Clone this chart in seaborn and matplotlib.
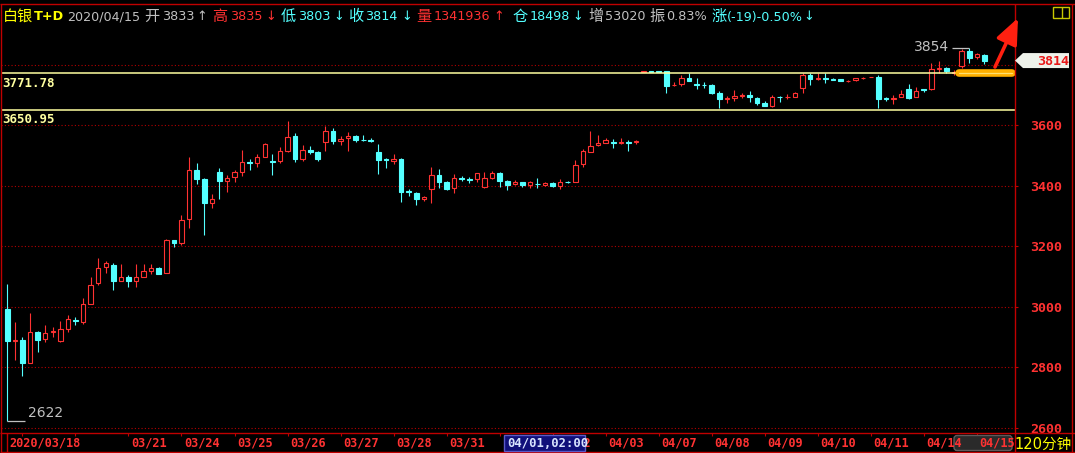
import numpy as np
import matplotlib
matplotlib.use("Agg")
import matplotlib.pyplot as plt
import seaborn as sns
from matplotlib.patches import Polygon, Rectangle, FancyBboxPatch

# ---------------- data (120-minute bars, 白银T+D) ----------------
opens = [2994, 2888, 2890, 2815, 2917, 2893, 2916, 2888, 2928, 2956,
         2951, 3010, 3078, 3131, 3138, 3086, 3098, 3086, 3100, 3119,
         3128, 3113, 3221, 3212, 3289, 3452, 3422, 3344, 3446, 3417,
         3430, 3447, 3480, 3474, 3496, 3482, 3483, 3516, 3565, 3489,
         3518, 3512, 3544, 3581, 3548, 3557, 3565, 3552, 3552, 3512,
         3487, 3483, 3488, 3382, 3375, 3356, 3388, 3435, 3413, 3392,
         3426, 3422, 3421, 3395, 3427, 3443, 3416, 3406, 3413, 3403,
         3407, 3404, 3409, 3400, 3414, 3414, 3471, 3513, 3534, 3542,
         3545, 3543, 3546, 3545, 3777, 3778, 3778, 3779, 3732, 3735,
         3755, 3735, 3734, 3732, 3706, 3688, 3689, 3698, 3700, 3689,
         3674, 3665, 3694, 3692, 3695, 3722, 3766, 3754, 3756, 3754,
         3753, 3745, 3750, 3755, 3759, 3759, 3690, 3686, 3693, 3719,
         3693, 3720, 3719, 3786, 3789, 3773, 3796, 3846, 3825, 3833]
highs = [3075, 2950, 2899, 2978, 2920, 2940, 2933, 2953, 2972, 2965,
         3028, 3098, 3160, 3150, 3145, 3141, 3105, 3141, 3141, 3141,
         3130, 3224, 3222, 3303, 3496, 3476, 3425, 3373, 3458, 3436,
         3452, 3518, 3488, 3505, 3540, 3505, 3527, 3614, 3574, 3535,
         3531, 3515, 3598, 3590, 3565, 3577, 3568, 3568, 3557, 3538,
         3491, 3505, 3491, 3388, 3380, 3366, 3461, 3455, 3416, 3438,
         3432, 3430, 3443, 3447, 3449, 3445, 3419, 3419, 3414, 3417,
         3425, 3414, 3413, 3422, 3417, 3485, 3522, 3581, 3568, 3557,
         3554, 3557, 3551, 3551, 3778, 3778, 3778, 3780, 3742, 3766,
         3772, 3755, 3742, 3736, 3713, 3697, 3717, 3706, 3713, 3695,
         3681, 3700, 3697, 3703, 3711, 3772, 3772, 3772, 3772, 3757,
         3754, 3750, 3757, 3760, 3760, 3766, 3695, 3699, 3716, 3736,
         3726, 3720, 3805, 3813, 3794, 3783, 3853, 3854, 3840, 3835]
lows = [2622, 2824, 2771, 2813, 2852, 2885, 2900, 2885, 2918, 2940,
        2944, 3008, 3073, 3111, 3056, 3085, 3066, 3066, 3098, 3108,
        3108, 3112, 3197, 3204, 3259, 3406, 3237, 3326, 3355, 3380,
        3414, 3432, 3452, 3461, 3494, 3436, 3476, 3513, 3480, 3483,
        3505, 3483, 3515, 3538, 3535, 3516, 3544, 3549, 3546, 3439,
        3460, 3472, 3347, 3366, 3337, 3351, 3342, 3392, 3386, 3377,
        3417, 3410, 3414, 3394, 3421, 3395, 3386, 3403, 3395, 3394,
        3392, 3399, 3395, 3389, 3408, 3412, 3461, 3512, 3533, 3541,
        3526, 3539, 3516, 3538, 3777, 3777, 3777, 3708, 3731, 3731,
        3747, 3720, 3724, 3702, 3656, 3675, 3681, 3689, 3678, 3668,
        3664, 3661, 3678, 3687, 3694, 3708, 3733, 3750, 3741, 3749,
        3746, 3744, 3745, 3753, 3759, 3657, 3681, 3670, 3692, 3688,
        3692, 3711, 3718, 3774, 3772, 3766, 3788, 3807, 3818, 3803]
closes = [2888, 2890, 2815, 2917, 2890, 2912, 2920, 2926, 2959, 2952,
          3008, 3071, 3127, 3144, 3086, 3098, 3086, 3098, 3118, 3127,
          3109, 3221, 3212, 3287, 3452, 3422, 3344, 3356, 3417, 3425,
          3446, 3478, 3475, 3495, 3538, 3478, 3515, 3560, 3489, 3518,
          3513, 3489, 3580, 3549, 3555, 3565, 3551, 3550, 3549, 3485,
          3484, 3490, 3380, 3379, 3357, 3362, 3435, 3414, 3389, 3425,
          3424, 3420, 3441, 3425, 3441, 3417, 3403, 3414, 3403, 3413,
          3405, 3410, 3400, 3413, 3412, 3469, 3515, 3532, 3541, 3551,
          3543, 3546, 3543, 3547, 3778, 3777, 3777, 3731, 3734, 3755,
          3748, 3732, 3732, 3708, 3687, 3690, 3697, 3701, 3694, 3675,
          3665, 3693, 3692, 3695, 3706, 3766, 3753, 3756, 3754, 3750,
          3747, 3748, 3756, 3757, 3760, 3688, 3688, 3690, 3703, 3691,
          3714, 3718, 3785, 3790, 3780, 3776, 3847, 3823, 3836, 3814]

tick_idx = [0, 2, 9, 16, 23, 30, 37, 44, 51, 58, 65, 72, 79, 86, 93, 100,
            107, 114, 121, 128]
tick_labels = ["2020/03/18", "", "", "03/21", "03/24", "03/25", "03/26",
               "03/27", "03/28", "03/31", "", "04/02", "04/03",
               "04/07", "04/08", "04/09", "04/10", "04/11", "04/14", "04/15"]
y_ticks = [2600, 2800, 3000, 3200, 3400, 3600]
grid_levels = [2600, 2800, 3000, 3200, 3400, 3600, 3800]
ref_levels = [3771.78, 3650.95]
ref_labels = ["3771.78", "3650.95"]
last_price = "3814"
cursor_label = "04/01,02:00"
period_label = "120分钟"

header_parts = ["白银", "T+D", "2020/04/15", "开", "3833", "↑", "高", "3835", "↓",
                "低", "3803", "↓", "收", "3814", "↓", "量", "1341936", "↑",
                "仓", "18498", "↓", "增", "53020", "振", "0.83%",
                "涨", "(-19)-0.50%", "↓"]

# ---------------- style ----------------
sns.set_theme(style="dark", rc={"axes.facecolor": "black",
                                "figure.facecolor": "black"})
plt.rcParams["font.family"] = ["DejaVu Sans", "Noto Sans CJK SC"]

UP = "#FF3232"
DN = "#54FFFF"
FRAME = "#C00000"
GRAY = "#C0C0C0"
YEL = "#FFFF00"
PALE = "#FFFFA0"
CJK = "Noto Sans CJK SC"

W, H = 1075, 453
fig = plt.figure(figsize=(W / 100, H / 100), dpi=100)
fig.patch.set_facecolor("black")

AX_L, AX_R, AX_TOP, AX_BOT = 1, 1015, 4, 433
ax = fig.add_axes([AX_L / W, 1 - AX_BOT / H, (AX_R - AX_L) / W,
                   (AX_BOT - AX_TOP) / H])
ax.set_facecolor("black")
XMIN, XMAX = -0.832, 133.05
YMIN, YMAX = 2582.8, 4001
ax.set_xlim(XMIN, XMAX)
ax.set_ylim(YMIN, YMAX)
for s in ax.spines.values():
    s.set_visible(False)
ax.grid(False)


def xpx(i):
    return AX_L + (i - XMIN) / (XMAX - XMIN) * (AX_R - AX_L)


def ypx(p):
    return AX_TOP + (YMAX - p) / (YMAX - YMIN) * (AX_BOT - AX_TOP)


o = np.array(opens, float)
h = np.array(highs, float)
l = np.array(lows, float)
c = np.array(closes, float)
x = np.arange(len(o))
up = c >= o

# wicks
ax.vlines(x, l, h, colors=[UP if u else DN for u in up], lw=0.8, zorder=2)
# bodies
bottoms = np.minimum(o, c)
heights = np.abs(c - o)
ax.bar(x[up], heights[up], bottom=bottoms[up], width=0.58,
       facecolor="black", edgecolor=UP, lw=0.8, zorder=3)
ax.bar(x[~up], heights[~up], bottom=bottoms[~up], width=0.62,
       facecolor=DN, edgecolor=DN, lw=0.8, zorder=3)

# grid lines
for g in grid_levels:
    ax.axhline(g, color="#B40000", lw=0.8, ls=(0, (1, 2)), zorder=1)

# reference levels
for lvl, lab in zip(ref_levels, ref_labels):
    ax.axhline(lvl, color=PALE, lw=1.1, zorder=4)
    ax.text(0.0015, lvl - 11, lab, transform=ax.get_yaxis_transform(),
            color=PALE, fontsize=9.0, fontweight="bold",
            family="DejaVu Sans Mono", ha="left", va="top")

# extremes markers
imin = int(np.argmin(l))
imax = int(np.argmax(h))
ax.hlines(l[imin], imin, imin + 2.3, color=GRAY, lw=0.9)
ax.text(imin + 2.7, l[imin] + 5, f"{int(l[imin])}", color=GRAY, fontsize=10,
        ha="left", va="bottom")
ax.hlines(h[imax], imax - 2.3, imax, color=GRAY, lw=0.9)
ax.text(imax - 2.7, h[imax] - 18, f"{int(h[imax])}", color=GRAY, fontsize=10,
        ha="right", va="bottom")

# orange highlight on level
ax.plot([125.6, 132.6], [ref_levels[0]] * 2, color="#FFB000", lw=5.5,
        solid_capstyle="round", zorder=6, clip_on=False)
ax.plot([125.6, 132.6], [ref_levels[0]] * 2, color="#FFE070", lw=0.9,
        zorder=7, clip_on=False)

# x ticks
ax.set_xticks(tick_idx)
ax.set_xticklabels([])
ax.tick_params(axis="x", bottom=True, direction="out", length=2.5,
               width=0.8, color=FRAME, labelbottom=False)

# y ticks on right
ax.yaxis.tick_right()
ax.set_yticks(y_ticks)
ax.set_yticklabels([str(v) for v in y_ticks])
ax.tick_params(axis="y", right=True, left=False, labelright=True,
               labelleft=False, direction="out", length=2.2, width=0.8,
               color=FRAME, pad=9, labelcolor=UP, labelsize=9.6)
for lab in ax.get_yticklabels():
    lab.set_fontfamily("DejaVu Sans Mono")
    lab.set_fontweight("bold")

# ---------------- overlay decorations ----------------
ov = fig.add_axes([0, 0, 1, 1], zorder=5)
ov.set_xlim(0, W)
ov.set_ylim(H, 0)
ov.axis("off")
ov.patch.set_alpha(0)

# frame lines
ov.hlines([AX_TOP, AX_BOT, 452], 0, W, color=FRAME, lw=1.0)
ov.vlines([0.8, 1014.5], AX_TOP, H, color=FRAME, lw=1.0)
ov.vlines([1071.5], AX_TOP, H, color=FRAME, lw=1.0)
ov.vlines([xpx(0)], AX_BOT, 452, color=FRAME, lw=1.0)

# scroll thumb (behind labels)
ov.add_patch(FancyBboxPatch((954, 435.5), 58, 15,
                            boxstyle="round,pad=0,rounding_size=3",
                            facecolor="#2A2A2A", edgecolor="#5C5C5C", lw=1,
                            zorder=1))

# date labels along the bottom
for ti, tl in zip(tick_idx, tick_labels):
    if tl:
        ov.text(xpx(ti) + 2.5, 443.5, tl, ha="left", va="center", color=UP,
                fontsize=8.6, fontweight="bold", family="DejaVu Sans Mono",
                zorder=10)

# header
xpos = [3, 34, 67, 144, 162, 196, 212, 230, 265, 281, 298, 333, 348, 365, 401,
        416, 434, 493, 513, 530, 572, 588, 605, 649, 666, 711, 727, 803]
cols = [YEL, YEL, GRAY, GRAY, GRAY, GRAY, UP, UP, UP, DN, DN, DN, DN, DN, DN,
        UP, UP, UP, DN, DN, DN, GRAY, GRAY, GRAY, GRAY, DN, DN, DN]
for t, xp, col in zip(header_parts, xpos, cols):
    is_cjk = any(ord(ch) > 0x3000 for ch in t)
    if is_cjk:
        ov.text(xp, 21, t, color=col, fontsize=10.9, family=CJK,
                ha="left", va="baseline")
    else:
        ov.text(xp, 20.5, t, color=col, fontsize=9.2,
                fontweight="bold" if t == "T+D" else "normal",
                ha="left", va="baseline")

# top-right icon
ov.add_patch(Rectangle((1053, 7), 16, 11, fill=False, edgecolor="#C8C800", lw=1))
ov.vlines(1062, 7, 18, color="#C8C800", lw=1)

# last price tag
yt = ypx(float(last_price))
ov.add_patch(Polygon([(1015, yt), (1023, yt - 7.5), (1069, yt - 7.5),
                      (1069, yt + 7.5), (1023, yt + 7.5)], closed=True,
                     facecolor="#EEF2EA", edgecolor="none", zorder=6))
ov.text(1037, yt + 0.5, last_price, color="#E81818", fontsize=9.6,
        fontweight="bold", family="DejaVu Sans Mono", ha="left",
        va="center", zorder=7)

# red arrow
ov.annotate("", xy=(1018, 18), xytext=(995, 67),
            arrowprops=dict(arrowstyle="-|>,head_length=1.3,head_width=0.55",
                            color="#FF2010", lw=2.6, shrinkA=0, shrinkB=0))

# cursor time box
ov.add_patch(Rectangle((504, 435), 81, 16, facecolor="#10107A",
                       edgecolor="#5A5AC8", lw=1, zorder=12))
ov.text(507, 443.5, cursor_label, color="#D8E4FF", fontsize=8.8,
        family="DejaVu Sans Mono", fontweight="bold", ha="left",
        va="center", zorder=13)

# period label
ov.text(1014, 449, period_label, color=YEL, fontsize=10.5,
        family=["DejaVu Sans", CJK], ha="left", va="baseline", zorder=7)

fig.savefig("out.png", dpi=100, facecolor="black")
